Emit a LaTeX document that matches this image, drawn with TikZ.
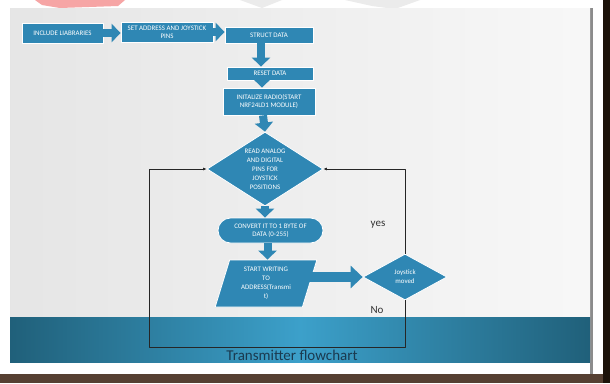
\documentclass[tikz,border=0pt]{standalone}
\usepackage{fontspec}
\setmainfont{Carlito}
\usetikzlibrary{arrows.meta,shapes.geometric}
\definecolor{boxblue}{RGB}{47,135,180}
\definecolor{bandmid}{RGB}{60,160,202}
\definecolor{banddark}{RGB}{32,96,122}
\definecolor{brick}{RGB}{86,64,50}
\definecolor{titleblue}{RGB}{26,58,80}
\definecolor{smear}{RGB}{246,165,165}
\tikzset{every path/.style={line join=round},
  procbox/.style={rectangle,fill=boxblue,draw=white,line width=0.8pt,text=white,inner sep=1pt,align=center,
    font=\fontsize{6.9}{7.7}\selectfont},
  decision/.style={procbox,diamond,inner sep=0pt,font=\fontsize{6.9}{9}\selectfont},
  blockarrow/.style={draw=boxblue,line width=8pt,-{Triangle[width=18pt,length=9pt]}},
  loopline/.style={draw=black!85,line width=0.7pt,-{Latex[length=3.5pt,width=3pt]}},
  note/.style={text=black!80,font=\fontsize{11}{12}\selectfont}}

\begin{document}
\begin{tikzpicture}[x=1pt,y=-1pt]
  \useasboundingbox (0,0) rectangle (610,383);
  % photo around the slide
  \fill[white] (0,0) rectangle (610,383);
  \fill[smear] (35,0) -- (125,0) -- (118,6) -- (60,8) -- (42,5) -- cycle;
  \fill[black!8] (240,0) -- (282,0) -- (262,8) -- cycle (345,0) -- (420,0) -- (395,9) -- (372,6) -- cycle;
  \fill[brick] (0,374) rectangle (610,383);
  \fill[black!85!brown] (603,0) rectangle (610,383);
  \fill[black!45] (590,8) rectangle (593,374);
  % slide
  \shade[left color=black!10,right color=black!3] (10,8) rectangle (590,362);
  \shade[left color=banddark,right color=banddark,middle color=bandmid] (10,317) rectangle (590,362);
  \node[text=titleblue,font=\fontsize{15}{16}\selectfont] (title) at (292,355) {Transmitter flowchart};

  \node[procbox,minimum width=81pt,minimum height=20pt] (incl) at (62.5,33) {INCLUDE LIABRARIES};
  \node[procbox,minimum width=92pt,minimum height=20pt] (addr) at (167,32) {SET ADDRESS AND JOYSTICK\\PINS};
  \node[procbox,minimum width=88pt,minimum height=16pt] (struct) at (269,35) {STRUCT DATA};
  \node[procbox,minimum width=86pt,minimum height=13pt] (reset) at (270,73.5) {RESET DATA};
  \node[procbox,minimum width=92pt,minimum height=27pt] (radio) at (269,101.5) {INITALIZE RADIO(START\\NRF24LD1 MODULE)};
  \node[decision,aspect=1.57,minimum width=116pt,minimum height=74pt] (read) at (265,169)
    {READ ANALOG\\AND DIGITAL\\PINS FOR\\JOYSTICK\\POSITIONS};
  \node[procbox,rounded corners=12.5pt,minimum width=105pt,minimum height=25pt] (conv) at (270.5,230.5)
    {CONVERT IT TO 1 BYTE OF\\DATA (0-255)};
  \node[procbox,trapezium,trapezium left angle=73,trapezium right angle=107,trapezium stretches=true,
    inner sep=0pt,minimum width=102pt,minimum height=47pt,font=\fontsize{6.9}{9}\selectfont] (write) at (266,283.5)
    {START WRITING\\TO\\ADDRESS(Transmi\\t)};
  \node[decision,aspect=1.83,minimum width=84pt,minimum height=46pt] (joy) at (405,277) {Joystick\\moved};
  \coordinate (corner) at (149,347);

  \node[note] (yes) at (378,225) {yes};
  \node[note] (no) at (377,310) {No};

  \draw[blockarrow] (incl.east) -- (addr.west |- incl.east);
  \draw[blockarrow] (addr.east) -- (struct.west |- addr.east);
  \draw[blockarrow] ([xshift=-8pt]struct.south) -- ([xshift=-8pt]struct.south |- reset.north);
  \draw[blockarrow] ([xshift=-8pt]reset.south) -- ([xshift=-8pt]reset.south |- radio.north);
  \draw[blockarrow] ([xshift=-6pt]radio.south) -- (read.north);
  \draw[blockarrow] (read.south) -- (read.south |- conv.north);
  \draw[blockarrow] ([xshift=-3pt]conv.south) -- ([xshift=-3pt]conv.south |- write.north);
  \draw[blockarrow,line width=10pt,-{Triangle[width=22pt,length=12pt]}] ([xshift=-8pt]write.east |- joy.west) -- (joy.west);

  \draw[loopline] (joy.north) |- (read.east);
  \draw[loopline] (joy.south) |- (corner) |- (read.west);
\end{tikzpicture}
\end{document}
